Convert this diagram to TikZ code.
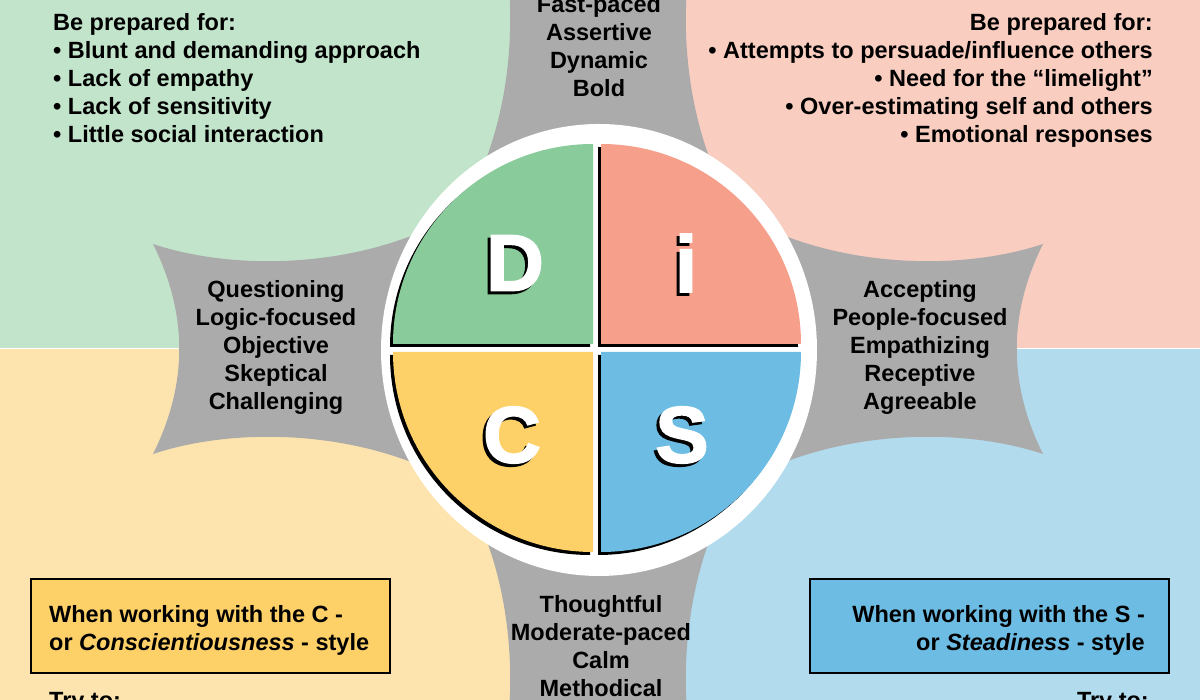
\documentclass[tikz,border=0pt]{standalone}
\usepackage{fontspec}
\setmainfont{Liberation Sans}
\newfontfamily\heavyfont[FakeBold=2]{Liberation Sans Bold}
\definecolor{bgD}{HTML}{C2E4CB}
\definecolor{bgI}{HTML}{F9CDC0}
\definecolor{bgC}{HTML}{FDE4AE}
\definecolor{bgS}{HTML}{B2DBEE}
\definecolor{qD}{HTML}{89CB9A}
\definecolor{qI}{HTML}{F6A08C}
\definecolor{qC}{HTML}{FED168}
\definecolor{qS}{HTML}{6DBCE3}
\definecolor{armgray}{HTML}{ABABAB}
\begin{document}
\begin{tikzpicture}[x=1pt,y=1pt,font=\bfseries\fontsize{23.5}{28}\selectfont,
  bigletter/.style={font=\heavyfont\fontsize{80}{80}\selectfont,inner sep=0pt},
  words/.style={align=center,inner sep=0pt,anchor=base},
  notebox/.style={draw=black,line width=2.5}]
\useasboundingbox (0,0) rectangle (1200,700);
\fill [white] (0,0) rectangle (1200,700);
\fill [bgD] (0,351.5) rectangle (599.5,700);
\fill [bgI] (600.5,351.5) rectangle (1200,700);
\fill [bgC] (0,0) rectangle (599.5,350.5);
\fill [bgS] (600.5,0) rectangle (1200,350.5);
% grey arms behind the wheel
\foreach \a in {0,90,180,270}
  \fill [armgray,shift={(598,351)},rotate=\a] (-445,-105)
     .. controls (-410,-35) and (-410,35) .. (-445,105)
     .. controls (-370,80) and (-260,80) .. (-170,120)
     -- (-170,-120)
     .. controls (-260,-80) and (-370,-80) .. (-445,-105) -- cycle;
\fill [white] (599,350) ellipse [x radius=218, y radius=226];
\foreach \ang/\col in {90/qD,0/qI,180/qC,270/qS} {
  \fill [black,shift={(594,349)}] ({\ang+45}:5.657) -- ++(\ang:200)
     arc [start angle=\ang, end angle=\ang+90, radius=200] -- cycle;
  \fill [\col,shift={(597,352)}] ({\ang+45}:5.657) -- ++(\ang:200)
     arc [start angle=\ang, end angle=\ang+90, radius=200] -- cycle;
}
\node [bigletter,black] (Dshadow) at (512,434) {D};
\node [bigletter,white] (D) at (515,437) {D};
\node [bigletter,black] (ishadow) at (683,434) {i};
\node [bigletter,white] (i) at (686,437) {i};
\node [bigletter,black] (Cshadow) at (509,262) {C};
\node [bigletter,white] (C) at (512,265) {C};
\node [bigletter,black] (Sshadow) at (679,262) {S};
\node [bigletter,white] (S) at (682,265) {S};
% traits on the arms (base = last line)
\node [words] (Dtraits) at (599,603) {Fast-paced\\Assertive\\Dynamic\\Bold};
\node [words] (Ctraits) at (276,290) {Questioning\\Logic-focused\\Objective\\Skeptical\\Challenging};
\node [words] (Itraits) at (920,290) {Accepting\\People-focused\\Empathizing\\Receptive\\Agreeable};
\node [words] (Straits) at (601,3) {Thoughtful\\Moderate-paced\\Calm\\Methodical};
% corner notes
\node [align=left,inner sep=0pt,anchor=base west] (Dnote) at (53,557)
  {Be prepared for:\\\textbullet\ Blunt and demanding approach\\\textbullet\ Lack of empathy\\\textbullet\ Lack of sensitivity\\\textbullet\ Little social interaction};
\node [align=right,inner sep=0pt,anchor=base east] (Inote) at (1153,557)
  {Be prepared for:\\\textbullet\ Attempts to persuade/influence others\\\textbullet\ Need for the “limelight”\\\textbullet\ Over-estimating self and others\\\textbullet\ Emotional responses};
\draw [notebox,fill=qC] (31,121) rectangle (390,27);
\node [align=left,inner sep=0pt,anchor=base west] (Cbox) at (49,49)
  {When working with the C -\\or \textit{Conscientiousness} - style};
\draw [notebox,fill=qS] (810,121) rectangle (1169,27);
\node [align=right,inner sep=0pt,anchor=base east] (Sbox) at (1145,49)
  {When working with the S -\\or \textit{Steadiness} - style};
\node [inner sep=0pt,anchor=base west] (Ctry) at (49,-9) {Try to:};
\node [inner sep=0pt,anchor=base east] (Stry) at (1149,-9) {Try to:};
\end{tikzpicture}
\end{document}
